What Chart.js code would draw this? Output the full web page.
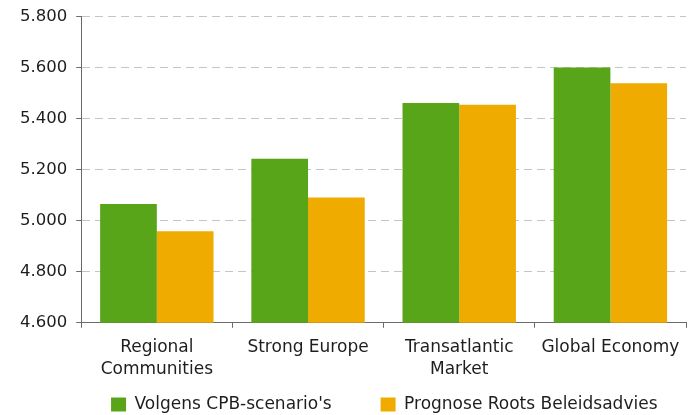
<!DOCTYPE html>
<html>
<head>
<meta charset="utf-8">
<script src="https://cdn.jsdelivr.net/npm/chart.js@4"></script>
<style>
  html, body { margin: 0; padding: 0; background: #fff; }
  #wrap { width: 690px; height: 415px; }
</style>
</head>
<body>
<div id="wrap"><canvas id="chart"></canvas></div>
<script>
// ===== Chart data =====
const categories = [['Regional', 'Communities'], ['Strong Europe'], ['Transatlantic', 'Market'], ['Global Economy']];
const seriesNames = ["Volgens CPB-scenario's", 'Prognose Roots Beleidsadvies'];
const cpbValues = [5.066, 5.243, 5.462, 5.601];
const rootsValues = [4.959, 5.091, 5.455, 5.540];
const yMin = 4.6;
const yMax = 5.8;
const yStep = 0.2;

const fontFamily = '"DejaVu Sans", Verdana, sans-serif';
const textColor = '#1e1e1e';

// trailing spacing after each legend entry
const legendGaps = ['\u2003\u2003\u2002\u2009', '\u2003\u2002'];

const ctx = document.getElementById('chart').getContext('2d');

const chart = new Chart(ctx, {
  type: 'bar',
  data: {
    labels: categories,
    datasets: [{
      label: seriesNames[0],
      data: cpbValues,
      backgroundColor: '#59a519',
      borderWidth: 0
    }, {
      label: seriesNames[1],
      data: rootsValues,
      backgroundColor: '#f0ab00',
      borderWidth: 0
    }]
  },
  options: {
    responsive: true,
    maintainAspectRatio: false,
    animation: false,
    datasets: {
      bar: { categoryPercentage: 0.75, barPercentage: 1.0 }
    },
    layout: { padding: { top: 0, right: 4, left: 11, bottom: -8 } },
    plugins: {
      tooltip: { enabled: false },
      legend: {
        position: 'bottom',
        align: 'end',
        labels: {
          color: textColor,
          font: { family: fontFamily, size: 17 },
          boxWidth: 15,
          boxHeight: 14,
          padding: 3,
          generateLabels: c => {
            const items = Chart.defaults.plugins.legend.labels.generateLabels(c);
            items.forEach((it, i) => {
              it.lineWidth = 0;
              it.text = it.text + legendGaps[i];
            });
            return items;
          }
        }
      }
    },
    scales: {
      x: {
        grid: {
          display: true,
          drawOnChartArea: false,
          tickLength: 5,
          tickColor: '#6a6a6a',
          offset: true
        },
        border: { color: '#6a6a6a', width: 1 },
        ticks: {
          color: textColor,
          font: { family: fontFamily, size: 17, lineHeight: 1.3 },
          padding: 9,
          maxRotation: 0,
          autoSkip: false
        },
        afterFit: scale => { scale.height += 3; }
      },
      y: {
        min: yMin,
        max: yMax,
        grid: {
          color: '#c4c4c4',
          lineWidth: 1,
          tickLength: 5,
          tickColor: '#6a6a6a',
          tickBorderDash: []
        },
        border: { color: '#6a6a6a', width: 1, dash: [8, 5] },
        ticks: {
          stepSize: yStep,
          color: textColor,
          font: { family: fontFamily, size: 16.5, lineHeight: 0.95 },
          padding: 9,
          callback: v => v.toFixed(3)
        }
      }
    }
  }
});
</script>
</body>
</html>
